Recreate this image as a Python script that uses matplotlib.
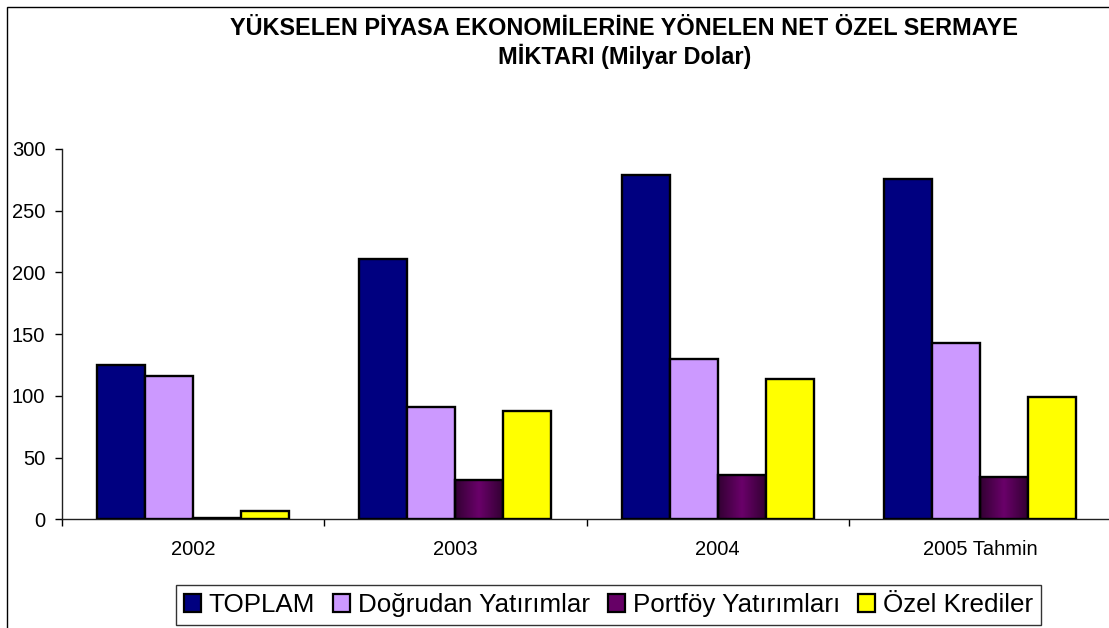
import numpy as np
import matplotlib
matplotlib.use('Agg')
import matplotlib.pyplot as plt
from matplotlib.patches import Patch, Rectangle
from matplotlib.colors import LinearSegmentedColormap

plt.rcParams['font.family'] = ['Liberation Sans', 'DejaVu Sans']

categories = ['2002', '2003', '2004', '2005 Tahmin']
series_names = ['TOPLAM', 'Doğrudan Yatırımlar', 'Portföy Yatırımları', 'Özel Krediler']
toplam = [125, 211, 279, 276]
dogrudan = [116, 91, 130, 143]
portfoy = [1, 32, 36, 34]
ozel = [7, 88, 114, 99]
colors = ['#000080', '#CC99FF', '#660066', '#FFFF00']

title = 'YÜKSELEN PİYASA EKONOMİLERİNE YÖNELEN NET ÖZEL SERMAYE\nMİKTARI (Milyar Dolar)'


def plot():
  fig = plt.figure(figsize=(11.09, 6.28), dpi=100)
  ax = fig.add_axes([62 / 1109, 108.7 / 628, 1049 / 1109, 370.3 / 628])

  x = np.arange(len(categories))
  w = 0.183
  all_series = [toplam, dogrudan, portfoy, ozel]
  bar_sets = []
  for i, vals in enumerate(all_series):
    bars = ax.bar(x + (i - 1.5) * w, vals, w, color=colors[i],
                  edgecolor='black', linewidth=1.7, zorder=3)
    bar_sets.append(bars)

  # portfoy bars have a dark-edged gradient fill
  cm = LinearSegmentedColormap.from_list('pf', ['#330033', '#6a006a', '#330033'])
  grad = np.linspace(0, 1, 64)[None, :]
  for b in bar_sets[2]:
    x0, y0 = b.get_xy()
    im = ax.imshow(grad, extent=[x0, x0 + b.get_width(), y0, y0 + b.get_height()],
                   aspect='auto', cmap=cm, zorder=2.5)
    im.set_clip_path(b)
    b.set_facecolor('none')

  ax.set_xlim(-0.5, len(categories) - 0.5)
  ax.set_ylim(0, 300)
  ax.set_yticks(range(0, 301, 50))
  ax.set_xticks(x)
  ax.set_xticklabels(categories)
  ax.set_xticks(np.arange(-0.5, len(categories), 1), minor=True)
  ax.tick_params(axis='x', which='major', length=0, pad=15, labelsize=14.5)
  ax.tick_params(axis='x', which='minor', length=5, width=1, direction='out')
  ax.tick_params(axis='y', length=5, width=1, pad=7, labelsize=14.5)
  for s in ['top', 'right']:
    ax.spines[s].set_visible(False)
  for s in ['left', 'bottom']:
    ax.spines[s].set_linewidth(1)
    ax.spines[s].set_color('#202020')

  fig.text(624.5 / 1109, 1 - 17 / 628, title, ha='center', va='top',
           fontsize=16.9, fontweight='bold', linespacing=1.2)

  handles = [Patch(facecolor=c, edgecolor='black', linewidth=1.6) for c in colors]
  leg = fig.legend(handles, series_names, loc='center', ncol=4,
                   bbox_to_anchor=(608.5 / 1109, 23 / 628), fontsize=18.7,
                   frameon=True, fancybox=False, edgecolor='black',
                   handlelength=0.65, handleheight=0.65, handletextpad=0.3,
                   columnspacing=0.7, borderpad=0.3, borderaxespad=0)
  leg.get_frame().set_linewidth(1)

  # chart area border
  fig.add_artist(Rectangle((7 / 1109, -0.1), 2, 1.1 - 7 / 628, transform=fig.transFigure,
                           fill=False, edgecolor='black', linewidth=1))


plot()
plt.savefig('out.png', dpi=100)
